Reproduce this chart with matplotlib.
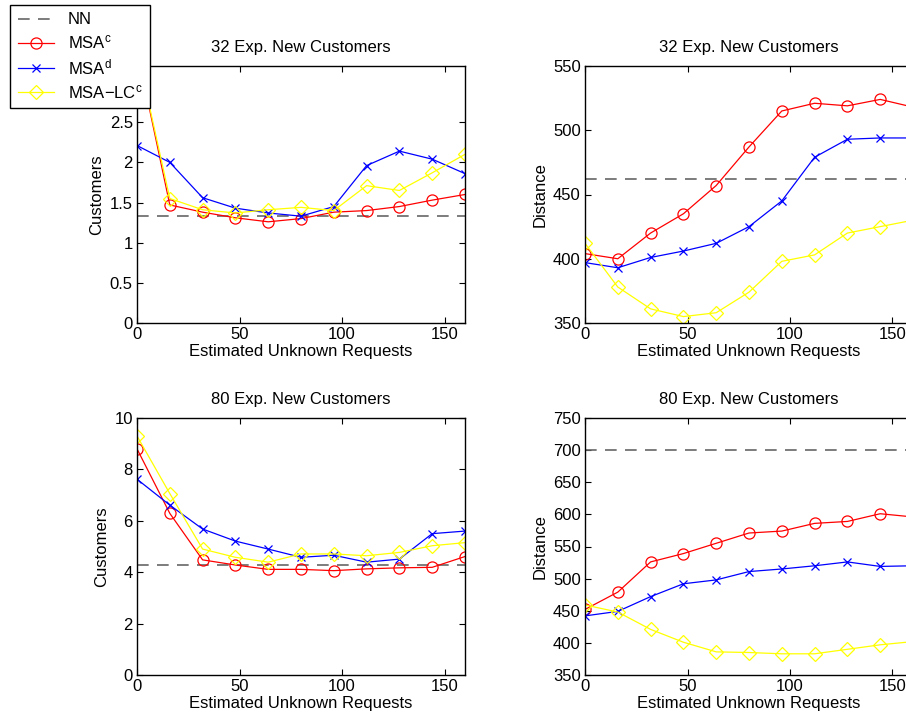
import matplotlib
matplotlib.use("Agg")
import matplotlib.pyplot as plt
from matplotlib.ticker import FuncFormatter

plt.rcParams["font.family"] = ["Liberation Sans", "DejaVu Sans"]
plt.rcParams["mathtext.fontset"] = "custom"
plt.rcParams["mathtext.rm"] = "Liberation Sans"
plt.rcParams["mathtext.it"] = "Liberation Sans:italic"

# estimated unknown requests
x = [0, 16, 32, 48, 64, 80, 96, 112, 128, 144, 160]

# 32 expected new customers
cust32_nn = 1.33
cust32_msac = [3.40, 1.47, 1.38, 1.31, 1.26, 1.30, 1.38, 1.40, 1.45, 1.53, 1.60]
cust32_msad = [2.21, 2.00, 1.56, 1.43, 1.37, 1.33, 1.45, 1.96, 2.14, 2.04, 1.86]
cust32_lc = [3.40, 1.55, 1.41, 1.37, 1.41, 1.44, 1.40, 1.71, 1.65, 1.87, 2.10]

dist32_nn = 462
dist32_msac = [404, 400, 420, 435, 457, 487, 515, 521, 519, 524, 518]
dist32_msad = [397, 393, 401, 406, 412, 425, 445, 479, 493, 494, 494]
dist32_lc = [412, 378, 361, 355, 358, 374, 398, 403, 420, 425, 430]

# 80 expected new customers
cust80_nn = 4.27
cust80_msac = [8.80, 6.29, 4.48, 4.28, 4.11, 4.11, 4.06, 4.13, 4.17, 4.19, 4.61]
cust80_msad = [7.62, 6.61, 5.68, 5.21, 4.90, 4.58, 4.66, 4.39, 4.51, 5.50, 5.60]
cust80_lc = [9.30, 7.06, 4.90, 4.58, 4.39, 4.71, 4.71, 4.64, 4.77, 5.03, 5.15]

dist80_nn = 700
dist80_msac = [452, 479, 526, 539, 555, 571, 574, 586, 589, 601, 596]
dist80_msad = [442, 449, 472, 492, 498, 511, 515, 520, 526, 519, 520]
dist80_lc = [459, 448, 421, 401, 386, 385, 383, 383, 390, 397, 402]

labels = ["NN", r"MSA$^{\mathrm{c}}$", r"MSA$^{\mathrm{d}}$", r"MSA−LC$^{\mathrm{c}}$"]

# the "3" tick of the first panel sits under the legend, so it is left out
panels = [
    ("32 Exp. New Customers", "Customers", (0, 3.2), [0, 0.5, 1, 1.5, 2, 2.5],
     cust32_nn, cust32_msac, cust32_msad, cust32_lc),
    ("32 Exp. New Customers", "Distance", (350, 550), [350, 400, 450, 500, 550],
     dist32_nn, dist32_msac, dist32_msad, dist32_lc),
    ("80 Exp. New Customers", "Customers", (0, 10), [0, 2, 4, 6, 8, 10],
     cust80_nn, cust80_msac, cust80_msad, cust80_lc),
    ("80 Exp. New Customers", "Distance", (350, 750), [350, 400, 450, 500, 550, 600, 650, 700, 750],
     dist80_nn, dist80_msac, dist80_msad, dist80_lc),
]

W, H = 906, 726
fig = plt.figure(figsize=(W / 100, H / 100), dpi=100)
boxes = [(137, 66), (585, 66), (137, 418), (585, 418)]
aw, ah = 328, 257

handles = None
for (left, top), (title, ylabel, ylim, yticks, nn, msac, msad, lc) in zip(boxes, panels):
    ax = fig.add_axes([left / W, 1 - (top + ah) / H, aw / W, ah / H])
    h0 = ax.axhline(nn, color="#666666", lw=1.2, dashes=(7, 5))
    h1, = ax.plot(x, msac, color="red", lw=0.9, marker="o", ms=8, mfc="none", mew=0.9)
    h2, = ax.plot(x, msad, color="blue", lw=0.9, marker="x", ms=6, mew=0.9)
    h3, = ax.plot(x, lc, color="yellow", lw=0.9, marker="D", ms=7, mfc="none", mew=0.9)
    handles = [h0, h1, h2, h3]
    ax.set_xlim(0, 160)
    ax.set_ylim(*ylim)
    ax.set_xticks([0, 50, 100, 150])
    ax.set_yticks(yticks)
    ax.yaxis.set_major_formatter(FuncFormatter(lambda v, p: "%g" % v))
    ax.tick_params(direction="in", top=True, right=True, length=4, width=0.8,
                   labelsize=12, pad=3)
    for s in ax.spines.values():
        s.set_linewidth(1.0)
    ax.set_title(title, fontsize=12, pad=10)
    ax.set_xlabel("Estimated Unknown Requests", fontsize=12, labelpad=1)
    ax.set_ylabel(ylabel, fontsize=12, labelpad=4)

leg = fig.legend(handles, labels, loc="upper left",
                 bbox_to_anchor=(10 / W, 1 - 5 / H), fontsize=12,
                 frameon=True, fancybox=False, edgecolor="black", framealpha=1,
                 handlelength=2.2, labelspacing=0.35, borderpad=0.45,
                 handletextpad=0.8, borderaxespad=0)
leg.get_frame().set_linewidth(1.0)
leg.set_zorder(10)

fig.savefig("out.png", dpi=100)
